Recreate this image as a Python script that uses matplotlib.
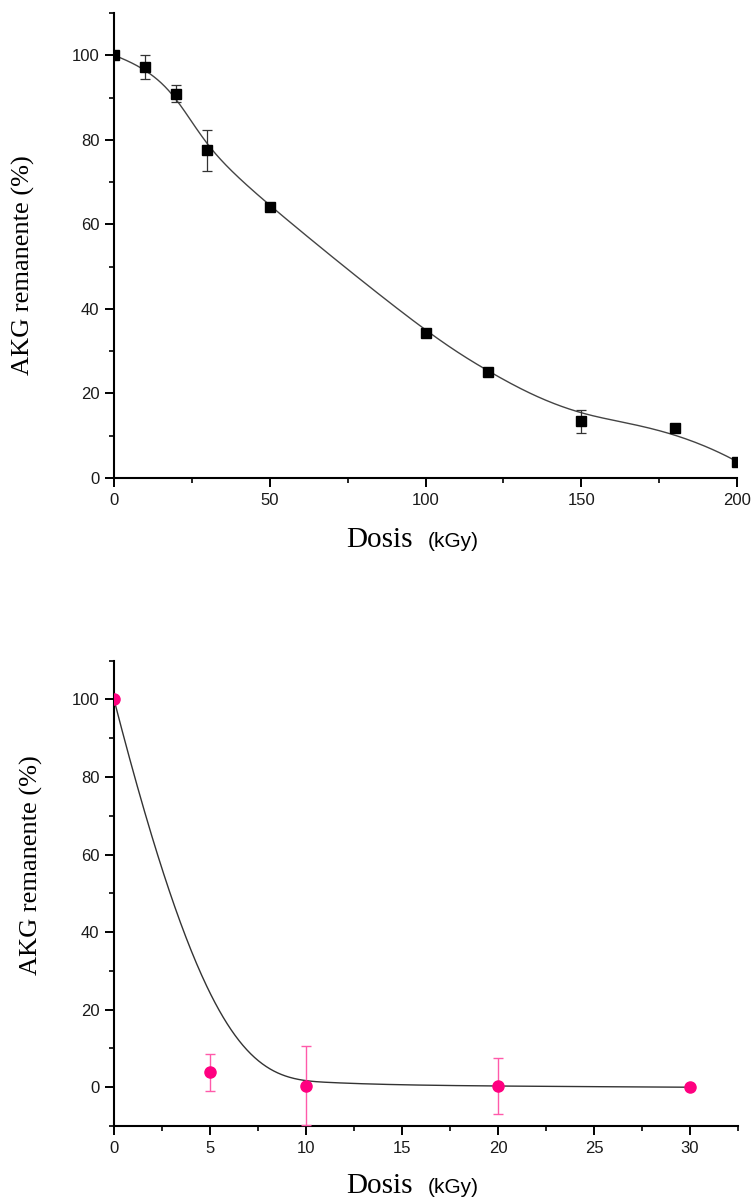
import numpy as np
import matplotlib.pyplot as plt
from matplotlib.ticker import MultipleLocator

# remaining AKG vs. dose, first series (0-200 kGy)
dose_a = [0, 10, 20, 30, 50, 100, 120, 150, 180, 200]
akg_a = [100, 97.2, 90.9, 77.5, 64.2, 34.4, 25.1, 13.4, 11.8, 3.9]
err_a = [0, 2.8, 2.0, 4.8, 0.5, 0.5, 0.6, 2.7, 0.6, 0.5]

# second series (0-30 kGy)
dose_b = [0, 5, 10, 20, 30]
akg_b = [100, 3.8, 0.4, 0.3, 0.0]
err_b = [0, 4.8, 10.2, 7.2, 0]

SANS = 'Liberation Sans'
SERIF = 'Liberation Serif'


def bspline_curve(px, py, num=500, k=3):
    """clamped uniform B-spline using the data points as control points"""
    P = np.column_stack([px, py]).astype(float)
    n = len(P)
    t = np.concatenate([np.zeros(k + 1), np.arange(1, n - k),
                        np.full(k + 1, n - k)]).astype(float)
    u = np.linspace(0, n - k, num)
    N = np.zeros((num, len(t) - 1))
    for i in range(len(t) - 1):
        N[:, i] = (u >= t[i]) & (u < t[i + 1])
    N[u == t[-1], :] = 0
    N[u == t[-1], n - 1] = 1
    for d in range(1, k + 1):
        M = np.zeros((num, len(t) - 1 - d))
        for i in range(len(t) - 1 - d):
            a = t[i + d] - t[i]
            b = t[i + d + 1] - t[i + 1]
            if a > 0:
                M[:, i] += (u - t[i]) / a * N[:, i]
            if b > 0:
                M[:, i] += (t[i + d + 1] - u) / b * N[:, i + 1]
        N = M
    C = N @ P
    return C[:, 0], C[:, 1]


def style_axes(ax, xmajor, xminor):
    for s in ['top', 'right']:
        ax.spines[s].set_visible(False)
    for s in ['left', 'bottom']:
        ax.spines[s].set_linewidth(1.5)
    ax.xaxis.set_major_locator(MultipleLocator(xmajor))
    ax.xaxis.set_minor_locator(MultipleLocator(xminor))
    ax.set_yticks([0, 20, 40, 60, 80, 100])
    ax.yaxis.set_minor_locator(MultipleLocator(10))
    ax.tick_params(which='major', direction='out', length=6.5, width=1.4,
                   pad=4, labelsize=12, labelcolor='#1a1a1a')
    ax.tick_params(which='minor', direction='out', length=3.5, width=1.2)
    for lab in ax.get_xticklabels() + ax.get_yticklabels():
        lab.set_family(SANS)


def dose_label(fig, baseline_px):
    W, H = 755.0, 1198.0
    y = 1 - baseline_px / H
    fig.text(413 / W, y, 'Dosis', family=SERIF, fontsize=21,
             ha='right', va='baseline')
    fig.text(428 / W, y, '(kGy)', family=SANS, fontsize=15,
             ha='left', va='baseline')


fig = plt.figure(figsize=(7.55, 11.98), dpi=100)

# ---- top panel
ax1 = fig.add_axes([114 / 755, 1 - 478 / 1198, 623 / 755, 465 / 1198])
cx, cy = bspline_curve(dose_a, akg_a)
ax1.plot(cx, cy, color='#444444', lw=1.0, zorder=2)
ax1.errorbar(dose_a, akg_a, yerr=err_a, fmt='none', ecolor='#333333',
             elinewidth=0.9, capsize=3.4, capthick=0.9, zorder=3)
ax1.plot(dose_a, akg_a, 's', color='black', ms=7.5, zorder=4)
ax1.set_xlim(0, 200)
ax1.set_ylim(0, 110)
style_axes(ax1, 50, 25)
ax1.set_ylabel('AKG remanente (%)', family=SERIF, fontsize=19)
ax1.yaxis.set_label_coords(-0.127, 0.458)
dose_label(fig, 547)

# ---- bottom panel
ax2 = fig.add_axes([114 / 755, 1 - 1126 / 1198, 624 / 755, 465.3 / 1198])
cx, cy = bspline_curve(dose_b, akg_b)
ax2.plot(cx, cy, color='#333333', lw=1.0, zorder=2)
ax2.errorbar(dose_b, akg_b, yerr=err_b, fmt='none', ecolor='#ff5aaa',
             elinewidth=1.0, capsize=3.4, capthick=1.0, zorder=3)
ax2.plot(dose_b, akg_b, 'o', color='#ff0080', ms=8, zorder=4)
ax2.set_xlim(0, 32.5)
ax2.set_ylim(-10, 110)
style_axes(ax2, 5, 2.5)
ax2.set_ylabel('AKG remanente (%)', family=SERIF, fontsize=19)
ax2.yaxis.set_label_coords(-0.114, 0.561)
dose_label(fig, 1193)

fig.savefig('out.png', dpi=100)
